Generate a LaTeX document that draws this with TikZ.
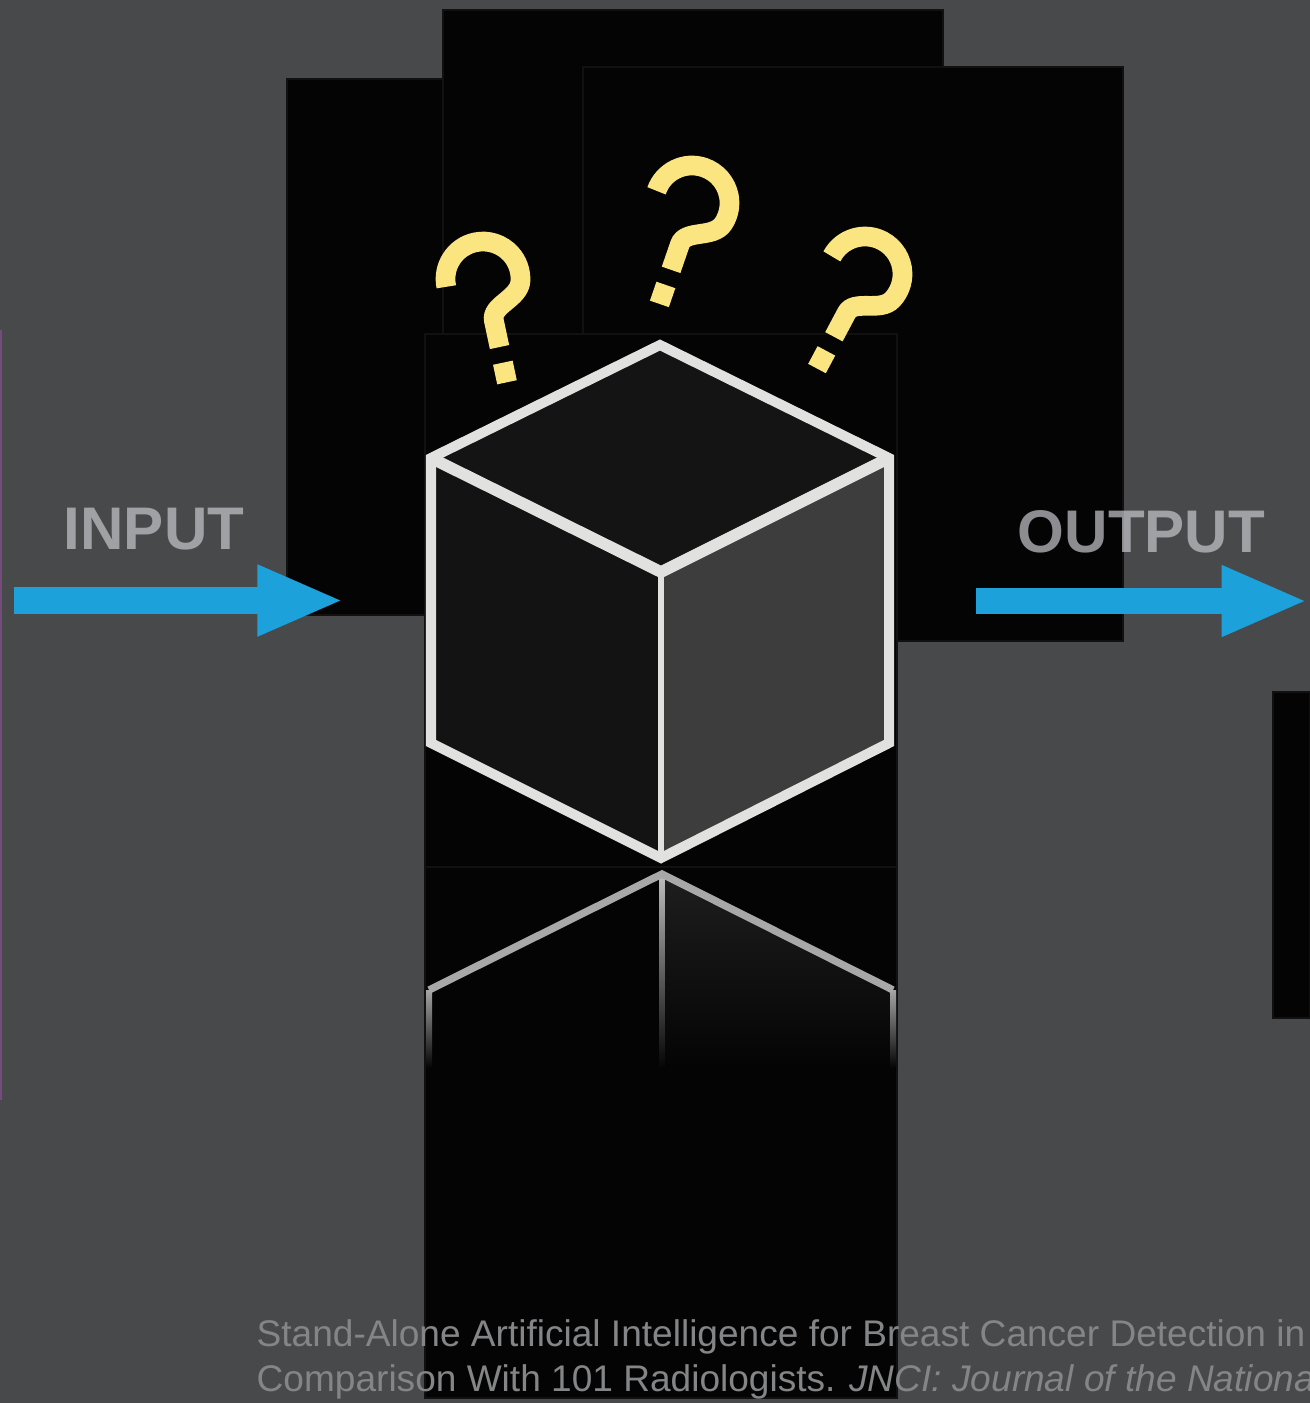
\documentclass[tikz,border=0pt]{standalone}
\usepackage{fontspec}
\setmainfont{Liberation Sans}
\usetikzlibrary{arrows.meta}

\definecolor{bggray}{RGB}{72,73,75}
\definecolor{panel}{RGB}{4,4,4}
\definecolor{paneledge}{RGB}{17,17,17}
\definecolor{flowblue}{RGB}{29,161,219}
\definecolor{labelgray}{RGB}{194,195,200}
\definecolor{qyellow}{RGB}{250,229,128}
\definecolor{edgewhite}{RGB}{225,225,223}
\definecolor{facedark}{RGB}{20,20,20}
\definecolor{faceside}{RGB}{61,61,61}
\definecolor{refline}{RGB}{168,168,168}
\definecolor{citegray}{RGB}{132,133,135}
\definecolor{stripe}{RGB}{115,75,125}

\tikzset{
  panelbox/.style={fill=panel, draw=paneledge, line width=0.3pt},
  flow/.style={draw=flowblue, line width=7.4pt, -{Triangle[length=24.6pt, width=18.5pt, fill=flowblue]}},
  io/.style={text=labelgray, text opacity=0.72, font=\bfseries\fontsize{17.1}{20}\selectfont, inner sep=0pt, anchor=base},
  cubeedge/.style={draw=edgewhite, line width=2.85pt, line join=miter},
  qmark/.style={draw=qyellow, line width=5.6pt},
  cite/.style={text=citegray, font=\fontsize{10.54}{12.8}\selectfont, inner sep=0pt, anchor=base west},
  qglyph/.pic={
    \draw[qmark] (180:37.5) arc[start angle=180, end angle=375, radius=37.5]
      .. controls (31.5,27) and (2,27) .. (2,43) -- (2,70);
    \fill[qyellow] (-8,86) rectangle (12,106);
  }
}

\begin{document}
\begin{tikzpicture}[x=0.01cm, y=-0.01cm]
  % canvas
  \useasboundingbox (0,0) rectangle (1310,1403);
  \fill[bggray] (0,0) rectangle (1310,1403);
  \fill[stripe] (0,330) rectangle (1.6,1100);

  % dark backdrop panels
  \path[panelbox] (287,79) rectangle (771,615);
  \path[panelbox] (443,10) rectangle (943,557);
  \path[panelbox] (583,67) rectangle (1123,641);
  \path[panelbox] (1273,692) rectangle (1310,1018);
  \path[panelbox] (425,334) rectangle (897,867);
  \path[panelbox] (425,867) rectangle (897,1398);

  % labels and flow arrows
  \node[io] (input) at (154,549) {INPUT};
  \node[io] (output) at (1141.5,552) {OUTPUT};
  \coordinate (inFrom) at (14,600.5);
  \coordinate (inTo) at (344,600.5);
  \coordinate (outFrom) at (976,601);
  \coordinate (outTo) at (1308,601);
  \draw[flow] (inFrom) -- (inTo);
  \draw[flow] (outFrom) -- (outTo);

  % cube corners
  \coordinate (cT) at (660,345);
  \coordinate (cL) at (431,458);
  \coordinate (cR) at (889,458);
  \coordinate (cC) at (661,572);
  \coordinate (cBL) at (431,743);
  \coordinate (cBR) at (889,743);
  \coordinate (cB) at (661,858);

  % cube faces
  \fill[facedark] (cT) -- (cL) -- (cC) -- (cR) -- cycle;
  \fill[facedark!95!black] (cL) -- (cC) -- (cB) -- (cBL) -- cycle;
  \fill[faceside] (cC) -- (cR) -- (cBR) -- (cB) -- cycle;

  % cube edges
  \draw[cubeedge] (cT) -- (cL) -- (cBL) -- (cB) -- (cBR) -- (cR) -- cycle;
  \draw[cubeedge, line width=3.3pt] (cL) -- (cC) -- (cR);
  \draw[draw=edgewhite, line width=1.85pt] (cC) -- (cB);

  % mirrored cube below
  \coordinate (rT) at (662,874);
  \coordinate (rL) at (429,990);
  \coordinate (rR) at (893,990);
  \shade[top color={rgb,255:red,30;green,30;blue,30}, bottom color=panel]
    (rT) -- (rR) -- (893,1067) -- (662,1067) -- cycle;
  \shade[top color={rgb,255:red,165;green,165;blue,165}, bottom color=panel]
    (426,990) rectangle (432,1068);
  \shade[top color={rgb,255:red,165;green,165;blue,165}, bottom color=panel]
    (890,990) rectangle (896,1068);
  \shade[top color={rgb,255:red,190;green,190;blue,190}, bottom color=panel]
    (659.5,874) rectangle (664.5,1068);
  \draw[draw=refline, line width=2.1pt, line join=miter] (rL) -- (rT) -- (rR);

  % question marks above the cube
  \pic[rotate=12] (qLeft) at (483,279) {qglyph};
  \pic[rotate=-19] (qMid) at (692,203) {qglyph};
  \pic[rotate=-28] (qRight) at (865,274) {qglyph};

  % citation
  \node[cite] (citeA) at (256,1346) {Stand-Alone Artificial Intelligence for Breast Cancer Detection in};
  \node[cite] (citeB) at (256,1391) {Comparison With 101 Radiologists. \textit{JNCI: Journal of the Nationa}};
\end{tikzpicture}
\end{document}
